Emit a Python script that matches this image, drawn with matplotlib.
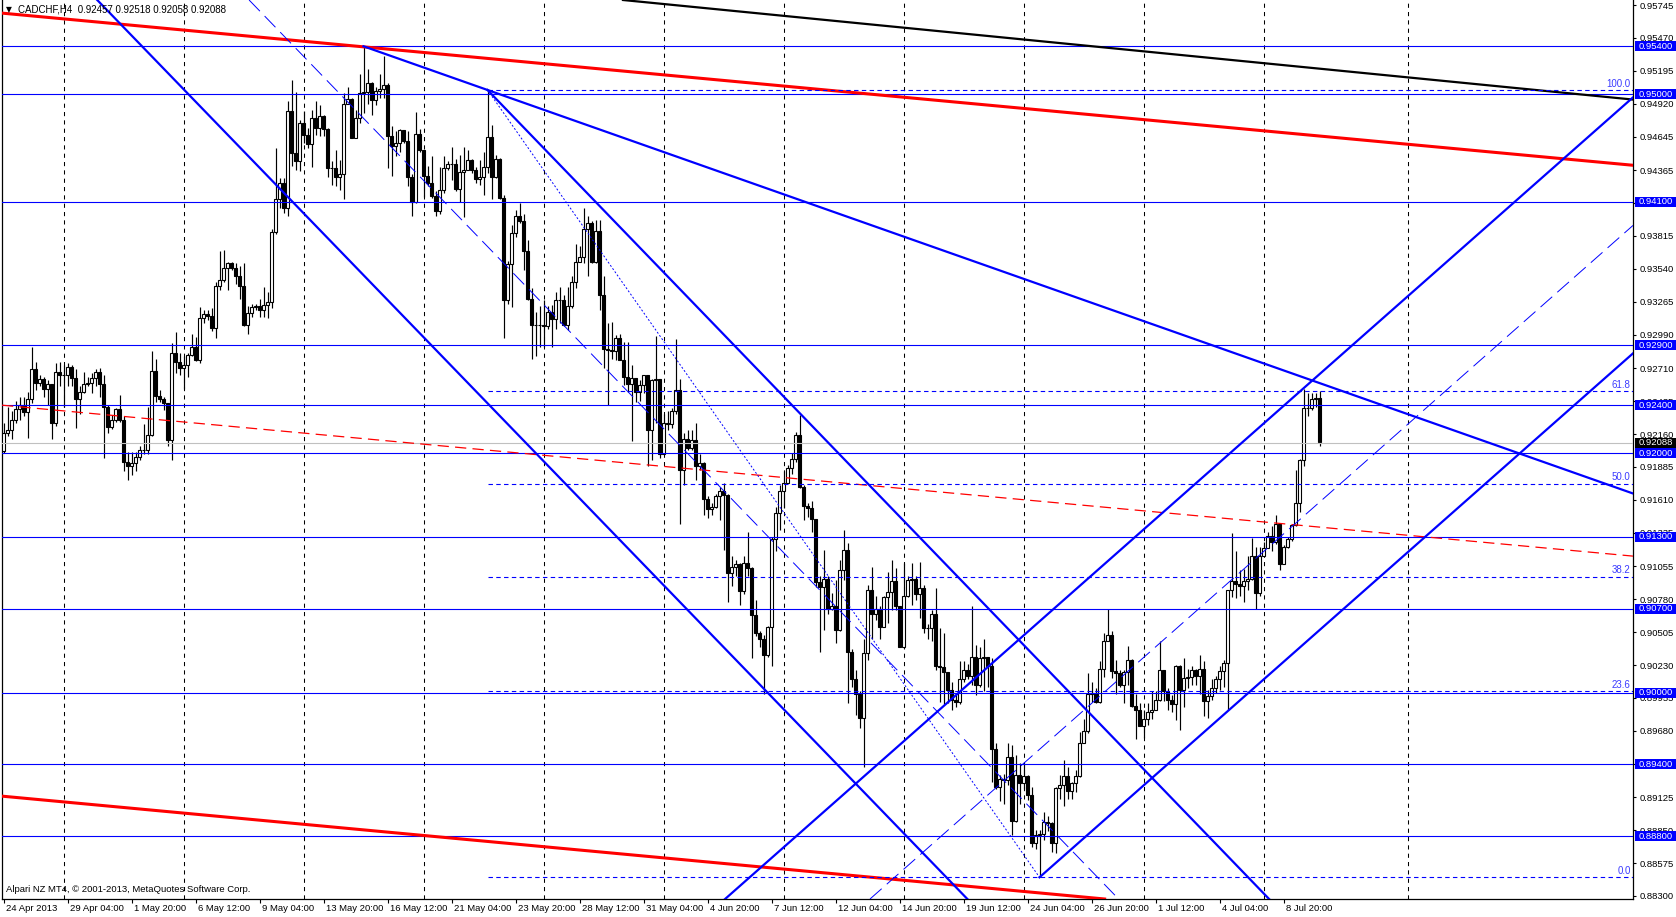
import matplotlib
matplotlib.use("Agg")
import matplotlib.pyplot as plt
import matplotlib.transforms as mtransforms
from matplotlib.patches import Rectangle

# CADCHF H4, prices in pips (1e-4)
first_open = 9202
close = [
    9217, 9219, 9228, 9237, 9240, 9234, 9245, 9270, 9259, 9262, 9254, 9258, 9225, 9268, 9265, 9265, 9272, 9263, 9245, 9251,
    9258, 9259, 9263, 9268, 9258, 9239, 9222, 9228, 9237, 9228, 9193, 9189, 9192, 9197, 9203, 9203, 9215, 9269, 9248, 9245,
    9242, 9211, 9284, 9276, 9271, 9274, 9282, 9289, 9278, 9313, 9316, 9315, 9305, 9340, 9345, 9355, 9359, 9355, 9348, 9340,
    9307, 9317, 9322, 9323, 9320, 9324, 9326, 9385, 9412, 9426, 9405, 9486, 9451, 9444, 9476, 9466, 9458, 9480, 9472, 9482,
    9471, 9438, 9438, 9431, 9433, 9492, 9496, 9463, 9480, 9501, 9502, 9509, 9495, 9503, 9504, 9508, 9465, 9457, 9459, 9470,
    9461, 9431, 9410, 9467, 9453, 9432, 9426, 9415, 9402, 9420, 9438, 9442, 9442, 9421, 9435, 9437, 9445, 9437, 9429, 9431,
    9439, 9464, 9431, 9446, 9413, 9328, 9358, 9384, 9398, 9394, 9369, 9329, 9307, 9307, 9307, 9306, 9318, 9312, 9328, 9328,
    9307, 9323, 9343, 9360, 9364, 9387, 9392, 9360, 9386, 9332, 9287, 9286, 9285, 9296, 9278, 9264, 9258, 9263, 9251, 9257,
    9265, 9219, 9261, 9262, 9199, 9225, 9224, 9235, 9253, 9186, 9212, 9204, 9211, 9189, 9192, 9162, 9153, 9155, 9164, 9168,
    9165, 9100, 9105, 9107, 9085, 9108, 9104, 9065, 9050, 9045, 9031, 9055, 9128, 9150, 9168, 9175, 9188, 9195, 9215, 9172,
    9156, 9154, 9145, 9092, 9088, 9095, 9070, 9072, 9052, 9102, 9119, 9034, 9011, 8999, 8979, 9033, 9086, 9066, 9070, 9055,
    9080, 9084, 9093, 9072, 9038, 9081, 9094, 9095, 9082, 9087, 9054, 9054, 9066, 9022, 9021, 9017, 9002, 8994, 8992, 9011,
    9019, 9014, 9030, 9006, 9029, 9030, 9022, 8953, 8921, 8928, 8927, 8946, 8893, 8931, 8924, 8930, 8914, 8874, 8881, 8882,
    8892, 8891, 8874, 8920, 8923, 8930, 8918, 8924, 8930, 8958, 8968, 8999, 9000, 8992, 9020, 9043, 9048, 9018, 9016, 9006,
    9017, 9027, 8989, 8985, 8972, 8978, 8984, 8985, 8994, 9019, 9001, 8994, 8990, 9022, 9002, 9012, 9013, 9019, 9014, 9020,
    8993, 8997, 9004, 9011, 9018, 9025, 9086, 9093, 9091, 9089, 9093, 9095, 9114, 9083, 9114, 9121, 9131, 9126, 9141, 9107,
    9122, 9128, 9140, 9158, 9194, 9238, 9238, 9245, 9246, 9209,
]
high = [
    9225, 9239, 9235, 9244, 9247, 9247, 9251, 9289, 9276, 9265, 9264, 9261, 9258, 9275, 9276, 9274, 9275, 9274, 9270, 9256,
    9268, 9264, 9267, 9270, 9271, 9265, 9240, 9232, 9238, 9249, 9231, 9201, 9201, 9201, 9206, 9224, 9239, 9285, 9279, 9253,
    9247, 9242, 9292, 9301, 9284, 9281, 9284, 9300, 9297, 9322, 9320, 9320, 9321, 9343, 9369, 9370, 9360, 9360, 9359, 9356,
    9359, 9323, 9325, 9325, 9329, 9339, 9335, 9387, 9455, 9430, 9430, 9494, 9512, 9502, 9478, 9486, 9472, 9487, 9494, 9491,
    9483, 9472, 9444, 9453, 9445, 9501, 9506, 9497, 9487, 9517, 9540, 9521, 9510, 9506, 9517, 9532, 9509, 9473, 9469, 9471,
    9470, 9469, 9433, 9485, 9471, 9448, 9440, 9448, 9419, 9439, 9448, 9444, 9456, 9446, 9449, 9456, 9453, 9446, 9439, 9445,
    9452, 9503, 9474, 9449, 9447, 9416, 9361, 9391, 9403, 9409, 9400, 9378, 9338, 9318, 9323, 9328, 9323, 9324, 9335, 9339,
    9332, 9339, 9348, 9375, 9373, 9405, 9398, 9394, 9395, 9395, 9348, 9309, 9310, 9299, 9300, 9293, 9293, 9274, 9263, 9261,
    9265, 9265, 9262, 9298, 9262, 9233, 9235, 9238, 9295, 9262, 9217, 9219, 9219, 9225, 9199, 9193, 9164, 9158, 9166, 9172,
    9175, 9166, 9114, 9111, 9108, 9114, 9134, 9105, 9077, 9051, 9048, 9056, 9130, 9155, 9173, 9185, 9190, 9200, 9218, 9232,
    9173, 9158, 9160, 9145, 9097, 9119, 9097, 9083, 9094, 9111, 9136, 9125, 9036, 9019, 9001, 9045, 9090, 9105, 9081, 9072,
    9081, 9101, 9111, 9104, 9072, 9108, 9097, 9108, 9097, 9109, 9090, 9057, 9069, 9087, 9054, 9050, 9017, 9009, 8998, 9026,
    9026, 9024, 9072, 9040, 9038, 9045, 9029, 9029, 8958, 8931, 8932, 8958, 8956, 8948, 8941, 8941, 8931, 8921, 8885, 8885,
    8900, 8897, 8892, 8921, 8931, 8944, 8938, 8925, 8935, 8967, 8978, 9016, 9009, 9004, 9026, 9050, 9070, 9051, 9027, 9019,
    9019, 9039, 9028, 8999, 8991, 8985, 8991, 9001, 9001, 9043, 9019, 9004, 8998, 9023, 9023, 9029, 9020, 9022, 9020, 9031,
    9026, 9002, 9011, 9014, 9022, 9027, 9086, 9133, 9118, 9102, 9103, 9114, 9129, 9122, 9122, 9126, 9134, 9139, 9148, 9141,
    9123, 9130, 9141, 9186, 9195, 9254, 9250, 9250, 9250, 9252,
]
low = [
    9200, 9214, 9212, 9225, 9228, 9231, 9213, 9242, 9253, 9256, 9247, 9240, 9212, 9223, 9256, 9239, 9256, 9256, 9221, 9233,
    9250, 9256, 9250, 9256, 9247, 9196, 9217, 9220, 9226, 9226, 9185, 9178, 9182, 9185, 9194, 9199, 9199, 9214, 9243, 9243,
    9236, 9206, 9194, 9267, 9265, 9254, 9264, 9281, 9277, 9275, 9309, 9311, 9302, 9296, 9336, 9343, 9336, 9353, 9341, 9329,
    9306, 9300, 9314, 9320, 9314, 9314, 9313, 9321, 9383, 9405, 9401, 9398, 9440, 9437, 9436, 9459, 9455, 9439, 9466, 9465,
    9465, 9431, 9424, 9423, 9420, 9412, 9494, 9463, 9463, 9476, 9484, 9492, 9483, 9491, 9497, 9497, 9438, 9432, 9448, 9452,
    9459, 9423, 9398, 9409, 9452, 9414, 9423, 9413, 9398, 9400, 9417, 9437, 9428, 9419, 9410, 9397, 9437, 9434, 9426, 9424,
    9416, 9434, 9412, 9430, 9412, 9296, 9325, 9322, 9381, 9392, 9353, 9328, 9279, 9281, 9289, 9289, 9304, 9289, 9304, 9309,
    9306, 9303, 9321, 9338, 9360, 9359, 9348, 9359, 9359, 9320, 9271, 9240, 9279, 9278, 9278, 9257, 9251, 9210, 9243, 9244,
    9250, 9189, 9194, 9225, 9196, 9200, 9219, 9221, 9233, 9141, 9173, 9203, 9203, 9178, 9186, 9148, 9146, 9148, 9154, 9144,
    9119, 9076, 9089, 9097, 9073, 9082, 9097, 9029, 9047, 9038, 8999, 9030, 9022, 9118, 9136, 9154, 9175, 9183, 9193, 9171,
    9144, 9147, 9134, 9088, 9034, 9052, 9066, 9069, 9041, 9051, 9094, 8991, 9005, 8981, 8970, 8938, 9027, 9045, 9061, 9045,
    9055, 9058, 9069, 9069, 9038, 9037, 9080, 9073, 9077, 9062, 9050, 9045, 9043, 9019, 8992, 8990, 8991, 8985, 8988, 8990,
    9009, 9011, 9006, 8998, 9005, 9001, 9005, 8925, 8919, 8909, 8907, 8923, 8881, 8892, 8907, 8919, 8910, 8871, 8869, 8846,
    8877, 8884, 8867, 8866, 8911, 8905, 8911, 8911, 8917, 8929, 8958, 8966, 8992, 8991, 8991, 9013, 9043, 9012, 8999, 9005,
    8991, 9006, 8988, 8961, 8972, 8962, 8973, 8978, 8985, 8993, 8993, 8985, 8984, 8977, 8969, 8988, 9004, 9006, 9006, 8999,
    8980, 8979, 8994, 9000, 9002, 9005, 8985, 9080, 9079, 9081, 9076, 9086, 9094, 9070, 9081, 9116, 9122, 9118, 9124, 9102,
    9107, 9121, 9127, 9139, 9151, 9189, 9231, 9236, 9239, 9206,
]

header = "CADCHF,H4  0.92457 0.92518 0.92058 0.92088"
copyright_text = "Alpari NZ MT4, \u00a9 2001-2013, MetaQuotes Software Corp."

date_labels = ["24 Apr 2013", "29 Apr 04:00", "1 May 20:00", "6 May 12:00", "9 May 04:00",
               "13 May 20:00", "16 May 12:00", "21 May 04:00", "23 May 20:00", "28 May 12:00",
               "31 May 04:00", "4 Jun 20:00", "7 Jun 12:00", "12 Jun 04:00", "14 Jun 20:00",
               "19 Jun 12:00", "24 Jun 04:00", "26 Jun 20:00", "1 Jul 12:00", "4 Jul 04:00", "8 Jul 20:00"]
label_every = 16
# week separators (the one past the last bar falls on Sunday 14 Jul)
week_bars = [15, 45, 75, 105, 135, 165, 195, 225, 255, 285, 315, 351]

price_ticks = [0.95745, 0.95470, 0.95195, 0.94920, 0.94645, 0.94365, 0.94090, 0.93815, 0.93540,
               0.93265, 0.92990, 0.92710, 0.92435, 0.92160, 0.91885, 0.91610, 0.91335, 0.91055,
               0.90780, 0.90505, 0.90230, 0.89955, 0.89680, 0.89400, 0.89125, 0.88850, 0.88575, 0.88300]
levels = [0.9540, 0.9500, 0.9410, 0.9290, 0.9240, 0.9200, 0.9130, 0.9070, 0.9000, 0.8940, 0.8880]
bid = 0.92088

# fibonacci
fib_high = (121, 0.95035)
fib_low = (259, 0.88456)
fib_ratios = [0.0, 23.6, 38.2, 50.0, 61.8, 100.0]

# trend lines, (bar, price) anchors
red_top = [(0, 0.95676), (407, 0.94407)]
red_mid = [(0, 0.92400), (407, 0.91141)]
red_bot = [(0, 0.89133), (407, 0.87864)]
black_line = [(163, 0.95760), (407, 0.94956)]
down_ch_low = [(30, 0.95560), (240, 0.88308)]
down_ch_high = [(121, 0.95035), (300, 0.88842)]
down_ch_mid = [(62, 0.95766), (300, 0.87541)]
top_line = [(90, 0.95400), (121, 0.95035)]
up_ch_high = [(186, 0.88440), (407, 0.94962)]
up_ch_low = [(259, 0.88456), (407, 0.92823)]
up_ch_mid = [(259, 0.89525), (407, 0.93892)]

BLUE = "#0000ff"
RED = "#ff0000"
FONT = ["Liberation Sans", "DejaVu Sans"]
plt.rcParams["font.family"] = FONT

W, H = 1676, 917
ax_left, ax_right, ax_top, ax_bottom = 2, 1633, 0, 899
fig = plt.figure(figsize=(W / 100, H / 100), dpi=100)
ax = fig.add_axes([ax_left / W, (H - ax_bottom) / H, (ax_right - ax_left) / W, (ax_bottom - ax_top) / H])

xmin, xmax = -0.375, 407.375
ymin, ymax = 0.882747, 0.957868
ax.set_xlim(xmin, xmax)
ax.set_ylim(ymin, ymax)

# grid
for b in week_bars:
    ax.axvline(b, color="black", lw=0.75, dashes=(4, 4), zorder=1)

# candles
n = len(close)
opens = [first_open] + close[:-1]
xs = list(range(n))
o = [v / 1e4 for v in opens]
c = [v / 1e4 for v in close]
h = [max(a, b, d) / 1e4 for a, b, d in zip(high, opens, close)]
l = [min(a, b, d) / 1e4 for a, b, d in zip(low, opens, close)]
ax.vlines(xs, l, h, color="black", lw=0.85, zorder=2)
body_bottom = [min(a, b) for a, b in zip(o, c)]
body_h = [abs(a - b) for a, b in zip(o, c)]
body_fc = ["white" if cc >= oo else "black" for oo, cc in zip(o, c)]
ax.bar(xs, body_h, bottom=body_bottom, width=0.62, color=body_fc, edgecolor="black",
       linewidth=0.8, zorder=3)

# bid line
ax.axhline(bid, color="#c0c0c0", lw=0.8, zorder=4)

# horizontal levels
for lv in levels:
    ax.axhline(lv, color=BLUE, lw=0.8, zorder=5)


def full_line(pts, **kw):
    ax.axline((pts[0][0], pts[0][1]), (pts[1][0], pts[1][1]), **kw)


def ray(pts, **kw):
    (x1, y1), (x2, y2) = pts
    k = (y2 - y1) / (x2 - x1)
    ax.plot([x1, 420], [y1, y1 + k * (420 - x1)], **kw)


full_line(red_top, color=RED, lw=2.2, zorder=5)
full_line(red_bot, color=RED, lw=2.2, zorder=5)
full_line(red_mid, color=RED, lw=0.9, dashes=(9, 5), zorder=5)
full_line(black_line, color="black", lw=1.6, zorder=5)

full_line(down_ch_low, color=BLUE, lw=1.6, zorder=6)
ray(down_ch_high, color=BLUE, lw=1.6, zorder=6)
full_line(down_ch_mid, color=BLUE, lw=0.7, dashes=(16, 7), zorder=6)
ray(top_line, color=BLUE, lw=1.6, zorder=6)
full_line(up_ch_high, color=BLUE, lw=1.6, zorder=6)
ray(up_ch_low, color=BLUE, lw=1.6, zorder=6)
full_line(up_ch_mid, color=BLUE, lw=0.7, dashes=(16, 7), zorder=6)

# fibonacci retracement
ax.plot([fib_high[0], fib_low[0]], [fib_high[1], fib_low[1]], color=BLUE, lw=0.7,
        dashes=(2, 2), zorder=6)
for r in fib_ratios:
    p = fib_low[1] + (fib_high[1] - fib_low[1]) * r / 100
    ax.plot([fib_high[0], xmax], [p, p], color=BLUE, lw=0.8, dashes=(4, 3), zorder=6)
    ax.text(406.8, p + 0.0001, f"{r:.1f}", ha="right", va="bottom", color="#3b3bff",
            fontsize=7, zorder=7)

# axes style
for s in ax.spines.values():
    s.set_linewidth(0.9)
    s.set_color("black")
ax.spines["top"].set_visible(False)

ax.yaxis.tick_right()
ax.set_yticks(price_ticks)
ax.set_yticklabels([f"{p:.5f}" for p in price_ticks])
ax.tick_params(axis="y", direction="out", length=2.5, width=0.8, pad=2, labelsize=6.8)

ax.set_xticks([i * label_every for i in range(len(date_labels))])
ax.set_xticklabels(date_labels)
ax.tick_params(axis="x", direction="out", length=3, width=0.8, pad=0.5, labelsize=6.8)
shift = mtransforms.ScaledTranslation(2 / 100, 0, fig.dpi_scale_trans)
for lab in ax.get_xticklabels():
    lab.set_ha("left")
    lab.set_transform(lab.get_transform() + shift)

# price boxes on the right axis
blend = mtransforms.blended_transform_factory(fig.transFigure, ax.transData)
px = (ymax - ymin) / (ax_bottom - ax_top)
box_x = 1635 / W


def price_box(p, fc):
    fig.add_artist(Rectangle((box_x, p - 5 * px), 1 - box_x, 10 * px, transform=blend,
                             facecolor=fc, edgecolor="none", zorder=10))
    fig.text(1639 / W, p, f"{p:.5f}", transform=blend, color="white", fontsize=6.8,
             va="center", ha="left", zorder=11)


for lv in levels:
    price_box(lv, BLUE)
price_box(bid, "black")

# header and footer text
fig.text(6 / W, 1 - 10 / H, "\u25bc", fontsize=5.5, va="center", ha="left", color="black",
         family=["DejaVu Sans"])
fig.text(18 / W, 1 - 10 / H, header, fontsize=7, va="center", ha="left", color="black")
fig.text(6 / W, 1 - 890 / H, copyright_text, fontsize=6.8, va="center", ha="left", color="black")

fig.savefig("out.png", dpi=100, facecolor="white")
